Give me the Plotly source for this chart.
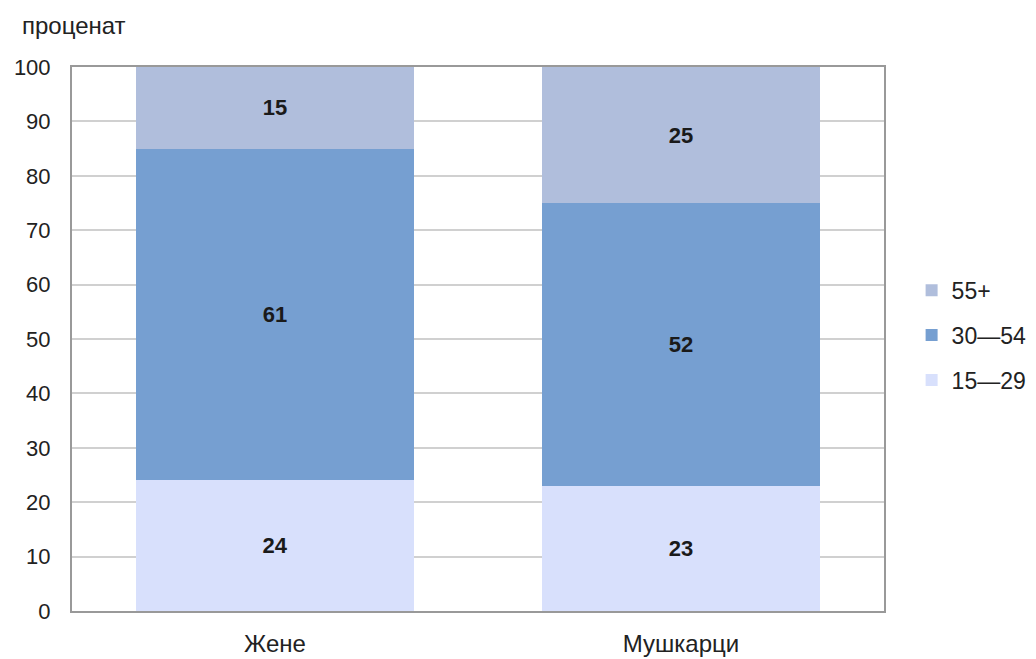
import plotly.graph_objects as go

categories = ["Жене", "Мушкарци"]
series_names = ["15—29", "30—54", "55+"]
values_15_29 = [24, 23]
values_30_54 = [61, 52]
values_55 = [15, 25]
colors = ["#D8E0FC", "#769FD1", "#B0BEDC"]
legend_ranks = [3, 2, 1]
y_ticks = [0, 10, 20, 30, 40, 50, 60, 70, 80, 90, 100]

FONT = "Liberation Sans, Arial, sans-serif"

fig = go.Figure()
for name, vals, col, rk in zip(series_names, [values_15_29, values_30_54, values_55], colors, legend_ranks):
    fig.add_trace(go.Bar(
        x=categories, y=vals, name=name, marker=dict(color=col, line=dict(width=0)),
        text=[str(v) for v in vals], textposition="inside", insidetextanchor="middle",
        textfont=dict(family=FONT, size=22, color="#1a1a1a", weight="bold"),
        legendgroup=name, legendrank=rk,
    ))

fig.update_layout(
    barmode="stack",
    bargap=0.315,
    width=1036, height=659,
    margin=dict(l=64, r=157, t=59, b=56),
    paper_bgcolor="white", plot_bgcolor="white",
    font=dict(family=FONT, size=22, color="#222"),
    legend=dict(x=1.034, y=0.507, xanchor="left", yanchor="middle",
                traceorder="grouped", tracegroupgap=12,
                font=dict(size=23, color="#222")),
    xaxis=dict(showline=True, linecolor="#999", linewidth=2, mirror=True, automargin=False,
               tickfont=dict(size=24, color="#222"), ticks="", ticklabelstandoff=10),
    yaxis=dict(range=[0, 100], tickvals=y_ticks, showgrid=True, gridcolor="#d0d0d0",
               gridwidth=2, showline=True, linecolor="#999", linewidth=2, mirror=True,
               automargin=False, ticks="", tickfont=dict(size=22, color="#222"),
               ticklabelstandoff=15),
    annotations=[dict(text="проценат", xref="paper", yref="paper", x=-0.064, y=1.077,
                      xanchor="left", yanchor="middle", showarrow=False,
                      font=dict(size=24, color="#222"))],
)

fig.write_html("out.html")
